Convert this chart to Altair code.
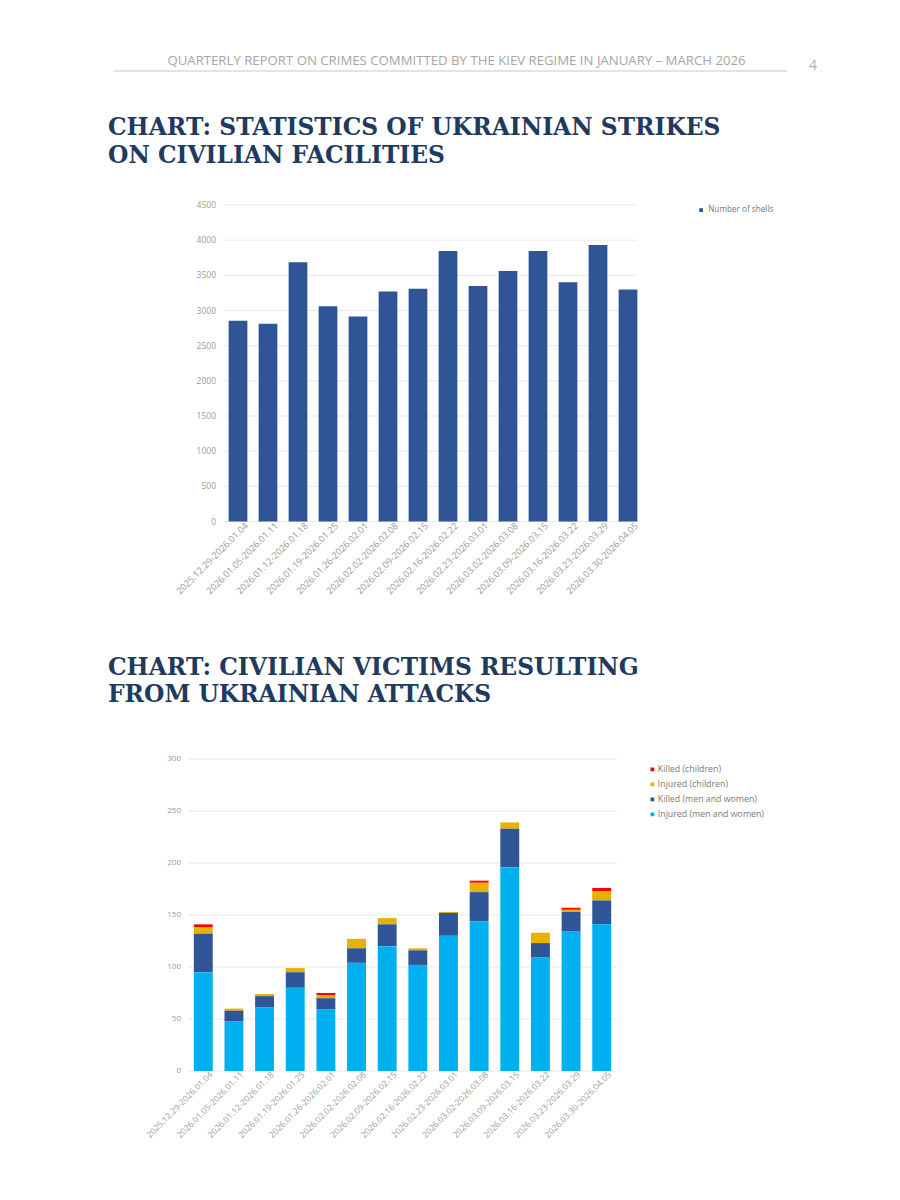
import altair as alt
import pandas as pd

WEEKS = [
    "2025.12.29-2026.01.04", "2026.01.05-2026.01.11", "2026.01.12-2026.01.18",
    "2026.01.19-2026.01.25", "2026.01.26-2026.02.01", "2026.02.02-2026.02.08",
    "2026.02.09-2026.02.15", "2026.02.16-2026.02.22", "2026.02.23-2026.03.01",
    "2026.03.02-2026.03.08", "2026.03.09-2026.03.15", "2026.03.16-2026.03.22",
    "2026.03.23-2026.03.29", "2026.03.30-2026.04.05",
]
SHELLS = [2855, 2810, 3685, 3060, 2915, 3270, 3310, 3845, 3350, 3560, 3845, 3400, 3930, 3300]

INJURED_ADULTS = [95, 48, 61, 80, 59, 104, 120, 102, 130, 144, 196, 109, 134, 141]
KILLED_ADULTS = [37, 10, 11, 15, 11, 14, 21, 14, 22, 28, 37, 14, 19, 23]
INJURED_CHILDREN = [6, 2, 2, 4, 3, 9, 6, 2, 1, 9, 6, 10, 2, 9]
KILLED_CHILDREN = [3, 0, 0, 0, 2, 0, 0, 0, 0, 2, 0, 0, 2, 3]

SERIES2 = ["Killed (children)", "Injured (children)", "Killed (men and women)", "Injured (men and women)"]
COLORS2 = ["#ff0000", "#e9b000", "#2f5597", "#00b0f0"]

TICKS1 = [0, 500, 1000, 1500, 2000, 2500, 3000, 3500, 4000, 4500]
TICKS2 = [0, 50, 100, 150, 200, 250, 300]

HEADER = "QUARTERLY REPORT ON CRIMES COMMITTED BY THE KIEV REGIME IN JANUARY \u2013 MARCH 2026"
PAGE = "4"
TITLE1 = ["CHART: STATISTICS OF UKRAINIAN STRIKES", "ON CIVILIAN FACILITIES"]
TITLE2 = ["CHART: CIVILIAN VICTIMS RESULTING", "FROM UKRAINIAN ATTACKS"]
LEGEND1 = "Number of shells"

NAVY = "#1f3a5f"
GRID = "#e9e9e9"
LABEL = "#9a9a9a"
AXISFONT = "Open Sans"
TITLEFONT = "DejaVu Serif"

df1 = pd.DataFrame({"week": WEEKS, "shells": SHELLS, "series": LEGEND1})
rows = []
for i, w in enumerate(WEEKS):
    for k, (name, vals) in enumerate(zip(SERIES2, [KILLED_CHILDREN, INJURED_CHILDREN, KILLED_ADULTS, INJURED_ADULTS])):
        rows.append({"week": w, "series": name, "value": vals[i], "ord": 3 - k})
df2 = pd.DataFrame(rows)
dfw = pd.DataFrame({"week": WEEKS})
dft1 = pd.DataFrame({"tick": TICKS1})
dft2 = pd.DataFrame({"tick": TICKS2})

# --- scales (pixel ranges on the page canvas) ---
x1 = alt.Scale(domain=WEEKS, range=[215, 635], paddingInner=0.375, paddingOuter=0.1875)
y1 = alt.Scale(domain=[0, 4500], range=[513.5, 197], nice=False, zero=True)
x2 = alt.Scale(domain=WEEKS, range=[180, 609], paddingInner=0.383, paddingOuter=0.19)
y2 = alt.Scale(domain=[0, 300], range=[1063, 751], nice=False, zero=True)


def text_layer(txt, x, y, size, color, font, weight="normal", align="left"):
    return alt.Chart(pd.DataFrame({"t": [txt]})).mark_text(
        align=align, baseline="alphabetic", fontSize=size, font=font,
        fontWeight=weight, color=color
    ).encode(text="t:N", x=alt.value(x), y=alt.value(y))


layers = []
# header
layers.append(text_layer(HEADER, 448.5, 56.5, 13.2, "#a6a6a6", "Open Sans", align="center"))
layers.append(text_layer(PAGE, 805, 62, 14, "#b0b0b0", "Open Sans", align="center"))
layers.append(alt.Chart(pd.DataFrame({"a": [0]})).mark_rule(color="#c8c8c8", strokeWidth=1).encode(
    x=alt.value(105), x2=alt.value(779), y=alt.value(63)))

# titles
for i, line in enumerate(TITLE1):
    layers.append(text_layer(line, 100, 127 + 28 * i, 23.4, NAVY, TITLEFONT, "bold"))
for i, line in enumerate(TITLE2):
    layers.append(text_layer(line, 100, 667 + 27 * i, 23.4, NAVY, TITLEFONT, "bold"))

# ---- chart 1 ----
layers.append(alt.Chart(dft1).mark_rule(color=GRID, strokeWidth=1).encode(
    y=alt.Y("tick:Q", scale=y1, axis=None), x=alt.value(215), x2=alt.value(629)))
layers.append(alt.Chart(df1).mark_bar(color="#2f5597").encode(
    x=alt.X("week:N", scale=x1, axis=None, sort=WEEKS),
    y=alt.Y("shells:Q", scale=y1, axis=None),
    color=alt.Color("series:N", scale=alt.Scale(domain=[LEGEND1], range=["#2f5597"]),
                    legend=alt.Legend(orient="none", legendX=689, legendY=198, title=None,
                                      symbolType="square", symbolSize=14, labelFontSize=8.2,
                                      labelColor="#7a7a7a", labelFont=AXISFONT, labelOffset=3,
                                      symbolStrokeWidth=0)),
))
layers.append(alt.Chart(dft1).mark_text(align="right", baseline="middle", fontSize=8.5,
                                        font=AXISFONT, color=LABEL).encode(
    y=alt.Y("tick:Q", scale=y1, axis=None), x=alt.value(208), text="tick:Q"))
layers.append(alt.Chart(dfw).mark_text(align="right", baseline="middle", angle=315, fontSize=9.2,
                                       font=AXISFONT, color=LABEL, dx=4, dy=8).encode(
    x=alt.X("week:N", scale=x1, axis=None, sort=WEEKS), y=alt.value(513.5), text="week:N"))

# ---- chart 2 ----
layers.append(alt.Chart(dft2).mark_rule(color=GRID, strokeWidth=1).encode(
    y=alt.Y("tick:Q", scale=y2, axis=None), x=alt.value(180), x2=alt.value(609)))
layers.append(alt.Chart(df2).mark_bar().encode(
    x=alt.X("week:N", scale=x2, axis=None, sort=WEEKS),
    y=alt.Y("value:Q", scale=y2, axis=None, stack="zero"),
    color=alt.Color("series:N", scale=alt.Scale(domain=SERIES2, range=COLORS2),
                    legend=alt.Legend(orient="none", legendX=640, legendY=757, title=None,
                                      symbolType="square", symbolSize=14, labelFontSize=8.8,
                                      labelColor="#7a7a7a", labelFont=AXISFONT, labelOffset=1,
                                      rowPadding=5, symbolStrokeWidth=0)),
    order=alt.Order("ord:Q", sort="ascending"),
))
layers.append(alt.Chart(dft2).mark_text(align="right", baseline="middle", fontSize=8,
                                        font=AXISFONT, color=LABEL).encode(
    y=alt.Y("tick:Q", scale=y2, axis=None), x=alt.value(173), text="tick:Q"))
layers.append(alt.Chart(dfw).mark_text(align="right", baseline="middle", angle=315, fontSize=8.5,
                                       font=AXISFONT, color=LABEL, dx=4, dy=7).encode(
    x=alt.X("week:N", scale=x2, axis=None, sort=WEEKS), y=alt.value(1063), text="week:N"))

chart = alt.layer(*layers).resolve_scale(
    x="independent", y="independent", color="independent"
).properties(
    width=884, height=1184, autosize="none", padding=0, background="white"
).configure_view(stroke=None)

chart.save("out.html", embed_options={"renderer": "svg", "actions": False})
